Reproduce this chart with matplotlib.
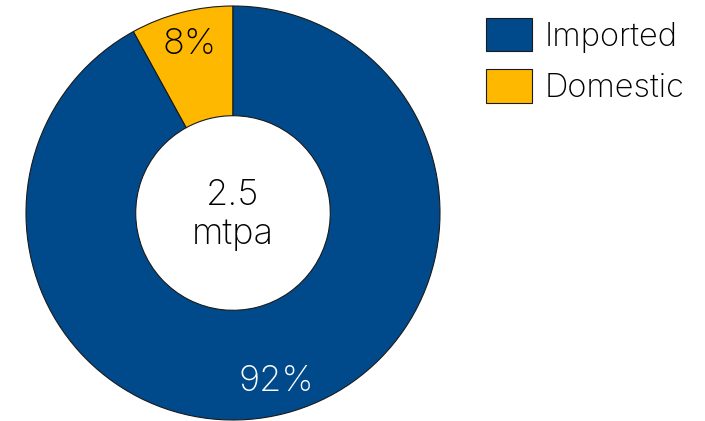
import matplotlib

matplotlib.use("Agg")
import matplotlib.pyplot as plt
from matplotlib.patches import Patch

# Supply split, share of total (%)
categories = ["Domestic", "Imported"]
shares = [8, 92]
total_label = "2.5\nmtpa"

COLORS = {"Imported": "#004A8C", "Domestic": "#FFB800"}
LABEL_COLORS = {"Imported": "white", "Domestic": "black"}

plt.rcParams["font.family"] = ["Inter", "DejaVu Sans"]
plt.rcParams["font.weight"] = "light"

fig = plt.figure(figsize=(7.05, 4.21), dpi=100)
ax = fig.add_axes([26 / 705, 1 / 421, 414 / 705, 414 / 421])

wedges, texts, autotexts = ax.pie(
    shares,
    colors=[COLORS[c] for c in categories],
    startangle=90,
    counterclock=True,
    radius=1.0,
    autopct="%d%%",
    pctdistance=0.84,
    wedgeprops=dict(width=0.53, edgecolor="#1a1a1a", linewidth=0.8),
    textprops=dict(fontsize=26, fontweight="light"),
)
for cat, t in zip(categories, autotexts):
    t.set_color(LABEL_COLORS[cat])

ax.text(0, -0.01, total_label, ha="center", va="center", fontsize=26,
        fontweight="light", linespacing=1.25)
ax.set_xlim(-1, 1)
ax.set_ylim(-1, 1)
ax.set_aspect("equal")
ax.set_axis_off()

handles = [Patch(facecolor=COLORS[c], edgecolor="#1a1a1a", linewidth=0.8, label=c)
           for c in ["Imported", "Domestic"]]
fig.legend(handles=handles, loc="upper left", bbox_to_anchor=(486 / 705, 1 - 18 / 421),
           frameon=False, fontsize=23.5, handlelength=1.4, handleheight=1.2,
           handletextpad=0.4, labelspacing=0.5, borderaxespad=0, borderpad=0)

fig.savefig("out.png", dpi=100, facecolor="white")
